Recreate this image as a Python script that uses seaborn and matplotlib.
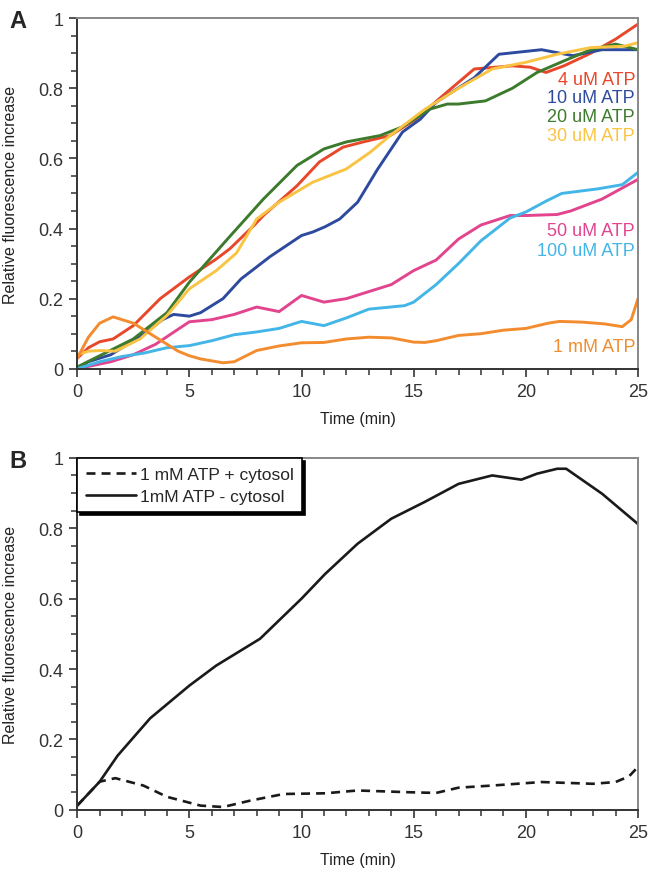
import matplotlib
matplotlib.use('Agg')
import matplotlib.pyplot as plt
import seaborn as sns
from matplotlib.ticker import MultipleLocator, FixedFormatter, FixedLocator

# ---- 数据：面板A ----
x_4um = [0, 0.5, 1, 1.6, 2.5, 3.7, 5, 6.2, 6.8, 7.9, 8.3, 9.8, 10.8, 11.85, 12.75, 13.95,
         15.1, 16.3, 17.7, 19.4, 20.2, 20.9, 21.7, 22.9, 24, 25]
y_4um = [0.03, 0.06, 0.077, 0.085, 0.123, 0.2, 0.262, 0.313, 0.342, 0.41, 0.437, 0.522, 0.59,
         0.632, 0.647, 0.665, 0.712, 0.779, 0.855, 0.864, 0.86, 0.845, 0.864, 0.9, 0.94, 0.983]

x_10um = [0, 0.5, 1.5, 2, 3, 3.8, 4.3, 5, 5.5, 6.5, 7.3, 8.6, 10, 10.5, 11.05, 11.7, 12.5,
          13.4, 14.5, 15.3, 16, 17.7, 18.8, 20.7, 22.1, 23.4, 25]
y_10um = [0, 0.02, 0.04, 0.06, 0.1, 0.14, 0.155, 0.15, 0.16, 0.2, 0.256, 0.32, 0.38, 0.39,
          0.405, 0.427, 0.475, 0.57, 0.675, 0.712, 0.76, 0.83, 0.897, 0.91, 0.893, 0.91, 0.91]

x_20um = [0, 1.03, 2.5, 4, 5, 6.7, 8.3, 9.8, 11, 12, 13.5, 14.5, 15.7, 16.5, 17, 18.2, 19.4,
          20.5, 21.7, 22.9, 24, 25]
y_20um = [0.005, 0.038, 0.085, 0.16, 0.247, 0.37, 0.484, 0.58, 0.627, 0.647, 0.665, 0.69,
          0.74, 0.755, 0.755, 0.764, 0.80, 0.845, 0.878, 0.91, 0.926, 0.91]

x_30um = [0, 0.5, 1.03, 1.7, 2.8, 4, 5, 6.2, 7.1, 8, 9, 10.5, 12, 13.05, 13.95, 15.5, 17,
          18.5, 20, 21.4, 22.9, 24.4, 25]
y_30um = [0.04, 0.05, 0.052, 0.05, 0.085, 0.152, 0.228, 0.28, 0.33, 0.427, 0.475, 0.532,
          0.57, 0.617, 0.665, 0.74, 0.8, 0.855, 0.874, 0.897, 0.916, 0.92, 0.93]

x_50um = [0, 1.5, 2.5, 3.5, 4.2, 5, 6, 7, 8, 9, 10, 11, 12, 13, 14, 15, 16, 17, 18, 19.3,
          20, 21.4, 22, 23.4, 25]
y_50um = [0, 0.02, 0.04, 0.07, 0.1, 0.134, 0.14, 0.155, 0.176, 0.163, 0.209, 0.19, 0.2,
          0.22, 0.24, 0.28, 0.31, 0.37, 0.41, 0.437, 0.437, 0.44, 0.45, 0.484, 0.54]

x_100um = [0, 1, 2, 3, 4, 5, 6, 7, 8, 9, 10, 11, 12, 13, 14.6, 15, 16, 17, 18, 19.3, 20,
           20.9, 21.6, 23.2, 24.3, 25]
y_100um = [0, 0.02, 0.035, 0.045, 0.06, 0.066, 0.08, 0.097, 0.105, 0.115, 0.135, 0.123,
           0.145, 0.17, 0.18, 0.19, 0.24, 0.30, 0.365, 0.43, 0.447, 0.478, 0.5, 0.513,
           0.525, 0.56]

x_1mm = [0, 0.5, 1, 1.6, 2.5, 3.5, 4.5, 5, 5.5, 6.5, 7, 8, 9, 10, 11, 12, 13, 14, 15, 15.5,
         16, 17, 18, 19, 20, 21, 21.5, 22.5, 23.5, 24.3, 24.7, 25]
y_1mm = [0.03, 0.09, 0.13, 0.148, 0.13, 0.09, 0.05, 0.037, 0.028, 0.017, 0.02, 0.052, 0.065,
         0.074, 0.075, 0.085, 0.09, 0.088, 0.076, 0.075, 0.08, 0.095, 0.1, 0.11, 0.115,
         0.13, 0.135, 0.133, 0.128, 0.12, 0.14, 0.2]

# ---- 数据：面板B ----
x_minus = [0, 1, 1.8, 3.25, 5, 6.2, 8.15, 10, 11.05, 12.5, 14, 15.5, 17, 18.5, 19.8, 20.5,
           21.4, 21.8, 23.4, 25]
y_minus = [0.012, 0.08, 0.154, 0.26, 0.353, 0.41, 0.486, 0.6, 0.67, 0.756, 0.827, 0.875,
           0.926, 0.95, 0.938, 0.955, 0.969, 0.969, 0.898, 0.812]

x_plus = [0, 1, 1.7, 2.95, 4, 5.5, 6.5, 7.7, 9.2, 11.05, 12.5, 14.8, 16, 17, 18.5, 20.7,
          23, 24, 24.6, 25]
y_plus = [0.012, 0.08, 0.09, 0.069, 0.037, 0.012, 0.008, 0.026, 0.045, 0.047, 0.055, 0.05,
          0.048, 0.063, 0.069, 0.079, 0.074, 0.079, 0.095, 0.122]

series_a = [
    ('4 uM ATP', x_4um, y_4um, '#e8472a'),
    ('10 uM ATP', x_10um, y_10um, '#2d4a9e'),
    ('20 uM ATP', x_20um, y_20um, '#3c7a2c'),
    ('30 uM ATP', x_30um, y_30um, '#f9c444'),
    ('50 uM ATP', x_50um, y_50um, '#e2448e'),
    ('100 uM ATP', x_100um, y_100um, '#43b5e6'),
    ('1 mM ATP', x_1mm, y_1mm, '#f28c2e'),
]
# 标签的纵向位置
label_y = [0.826, 0.773, 0.719, 0.665, 0.393, 0.336, 0.063]

sns.set_style('ticks')
plt.rcParams['font.family'] = ['Liberation Sans', 'DejaVu Sans']

fig = plt.figure(figsize=(6.49, 8.70), dpi=100)
ax_a = fig.add_axes([0.119, 0.575, 0.864, 0.403])
ax_b = fig.add_axes([0.119, 0.068, 0.864, 0.4046])


def style_axes(ax):
    """坐标轴样式"""
    ax.set_xlim(0, 25)
    ax.set_ylim(0, 1)
    ax.xaxis.set_major_locator(MultipleLocator(5))
    ax.xaxis.set_minor_locator(MultipleLocator(1))
    ax.yaxis.set_major_locator(FixedLocator([0, 0.2, 0.4, 0.6, 0.8, 1.0]))
    ax.yaxis.set_major_formatter(FixedFormatter(['0', '0.2', '0.4', '0.6', '0.8', '1']))
    ax.yaxis.set_minor_locator(MultipleLocator(0.05))
    ax.tick_params(which='major', direction='out', length=6, width=1.2,
                   labelsize=13, colors='#333333', pad=4)
    ax.tick_params(which='minor', direction='out', length=4, width=1.1, colors='#333333')
    for side in ['left', 'bottom']:
        ax.spines[side].set_color('#333333')
        ax.spines[side].set_linewidth(1.4)
    for side in ['top', 'right']:
        ax.spines[side].set_visible(True)
        ax.spines[side].set_color('#888888')
        ax.spines[side].set_linewidth(1.4)
    ax.set_xlabel('Time (min)', fontsize=11.5, color='#222222')
    ax.set_ylabel('Relative fluorescence increase', fontsize=11.5, color='#222222')
    ax.xaxis.set_label_coords(0.5, -0.12)
    ax.yaxis.set_label_coords(-0.105, 0.5)


# 面板A
for (name, xs, ys, c), ly in zip(series_a, label_y):
    sns.lineplot(x=xs, y=ys, ax=ax_a, color=c, linewidth=2.1, legend=False)
    ax_a.text(24.87, ly, name, color=c, fontsize=13, ha='right', va='center')
style_axes(ax_a)

# 面板B
sns.lineplot(x=x_plus, y=y_plus, ax=ax_b, color='#1a1a1a', linewidth=1.9,
             label='1 mM ATP + cytosol')
ax_b.lines[-1].set_dashes([3.4, 2.3])
sns.lineplot(x=x_minus, y=y_minus, ax=ax_b, color='#1a1a1a', linewidth=1.9,
             label='1mM ATP - cytosol')
style_axes(ax_b)
leg = ax_b.legend(loc='upper left', bbox_to_anchor=(0, 1), borderaxespad=0,
                  frameon=True, fancybox=False, shadow={'color': 'black', 'alpha': 1},
                  edgecolor='black', fontsize=12.5, handlelength=2.9,
                  handletextpad=0.2, labelspacing=0.4, borderpad=0.5)
leg.get_frame().set_linewidth(1.2)
leg.get_frame().set_alpha(1)

fig.text(0.028, 0.975, 'A', fontsize=17, fontweight='bold', ha='center', va='center')
fig.text(0.028, 0.469, 'B', fontsize=17, fontweight='bold', ha='center', va='center')

fig.savefig('out.png', dpi=100)
